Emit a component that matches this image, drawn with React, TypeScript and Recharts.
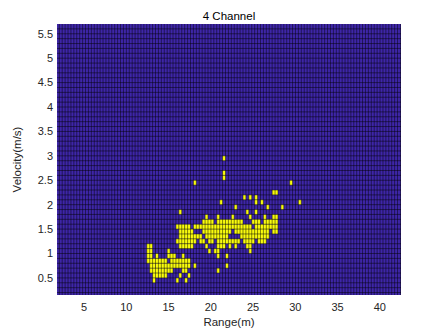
import {
  ScatterChart,
  XAxis,
  YAxis,
  ReferenceArea,
  ReferenceLine,
} from "recharts"

// range bin (m) and velocity bin (m/s) of the map
const RANGE_BIN = 0.345
const VEL_BIN = 0.1

const X_DOMAIN = [1.8, 42.5]
const Y_DOMAIN = [0.15, 5.7]

const X_TICKS = [5, 10, 15, 20, 25, 30, 35, 40]
const Y_TICKS = [0.5, 1, 1.5, 2, 2.5, 3, 3.5, 4, 4.5, 5, 5.5]

// velocity row (lower edge) -> runs of detected range [from, to] in m
const DETECTIONS: [number, number[][]][] = [
  [0.4, [[13.3, 13.4], [15.9, 15.9], [17.1, 17.1]]],
  [0.5, [[13.35, 13.6], [13.9, 14.2], [14.5, 14.5], [16.3, 16.3], [17.5, 17.5]]],
  [0.6, [[13.1, 13.6], [13.9, 14.3], [14.5, 14.8], [15.1, 15.5], [16.7, 17.1], [20.9, 20.9]]],
  [0.7, [[13.1, 13.3], [13.7, 15.7], [16.1, 17.25], [18.0, 18.0], [22.0, 22.0]]],
  [0.8, [[12.76, 14.77], [15.5, 17.5]]],
  [0.9, [[12.76, 13.1], [13.6, 13.6], [15.1, 15.3], [15.7, 15.7], [16.7, 16.7], [20.9, 20.9], [22.0, 22.0]]],
  [1.0, [[12.6, 13.1], [14.9, 15.1], [20.0, 20.0], [20.4, 20.4], [21.0, 21.0], [24.6, 24.6]]],
  [1.1, [[12.6, 12.9], [16.5, 17.9], [19.65, 19.65], [21.0, 21.4], [22.2, 22.2], [23.1, 23.1], [24.2, 24.8]]],
  [1.2, [[16.1, 18.1], [18.7, 19.3], [19.85, 20.25], [20.85, 23.2], [24.0, 25.0], [25.8, 26.4]]],
  [1.3, [[16.5, 18.7], [19.45, 22.0], [23.6, 26.75]]],
  [1.4, [[16.3, 17.9], [19.06, 20.85], [21.2, 22.4], [23.0, 23.2], [23.4, 26.9], [27.3, 27.9]]],
  [1.5, [[15.9, 15.9], [16.5, 16.7], [17.1, 17.5], [18.1, 18.5], [18.7, 23.4], [23.8, 24.6], [25.4, 27.9]]],
  [1.6, [[19.06, 20.05], [20.85, 23.6], [25.0, 25.6], [26.35, 27.7]]],
  [1.7, [[19.6, 19.6], [20.9, 20.9], [22.45, 22.45], [24.6, 24.6], [26.5, 26.5], [27.4, 27.8]]],
  [1.8, [[16.5, 16.5], [24.3, 24.3], [25.2, 25.2]]],
  [1.9, [[23.0, 23.0], [26.8, 26.8], [28.4, 28.4]]],
  [2.0, [[21.35, 21.35], [25.4, 25.4], [26.1, 26.1], [30.4, 30.4]]],
  [2.1, [[24.0, 24.0], [24.6, 24.6], [25.4, 25.4]]],
  [2.2, [[27.5, 27.9]]],
  [2.4, [[18.2, 18.2], [29.5, 29.5]]],
  [2.5, [[21.6, 21.6]]],
  [2.6, [[21.6, 21.6]]],
  [2.9, [[21.7, 21.7]]],
]

// snap runs onto the bin grid
const cells = DETECTIONS.flatMap(([v, runs]) =>
  runs.map(([a, b]) => ({
    x1: Math.floor(a / RANGE_BIN) * RANGE_BIN,
    x2: (Math.floor(b / RANGE_BIN) + 1) * RANGE_BIN,
    y1: v,
    y2: Math.round((v + VEL_BIN) * 10) / 10,
  }))
)

// bin edges drawn as the pcolor mesh
const rangeEdges = Array.from({ length: 130 }, (_, k) => k * RANGE_BIN).filter(
  (x) => x > X_DOMAIN[0] && x < X_DOMAIN[1]
)
const velEdges = Array.from({ length: 60 }, (_, k) => Math.round(k) / 10).filter(
  (v) => v > Y_DOMAIN[0] && v < Y_DOMAIN[1]
)

const FONT = "'Liberation Sans', Arial, Helvetica, sans-serif"
const AXIS_COLOR = "#262626"

export default function App() {
  return (
    <div
      style={{
        position: "absolute",
        left: 0,
        top: 0,
        width: 443,
        height: 332,
        background: "#fff",
        fontFamily: FONT,
      }}
    >
      <div
        style={{
          position: "absolute",
          left: 57,
          top: 9,
          width: 344,
          height: 14,
          lineHeight: "14px",
          textAlign: "center",
          fontSize: 11.5,
          color: "#000",
        }}
      >
        4 Channel
      </div>

      <ScatterChart
        width={443}
        height={332}
        margin={{ top: 24, right: 42, bottom: 4, left: 0 }}
      >
        <XAxis
          type="number"
          dataKey="x"
          domain={X_DOMAIN}
          ticks={X_TICKS}
          allowDataOverflow
          axisLine={false}
          tickLine={false}
          tickSize={0}
          tickMargin={8}
          height={33}
          tick={{ fill: AXIS_COLOR, fontSize: 11, fontFamily: FONT }}
          label={{
            value: "Range(m)",
            position: "insideBottom",
            offset: 2,
            style: { fill: AXIS_COLOR, fontSize: 11.5, fontFamily: FONT },
          }}
        />
        <YAxis
          type="number"
          dataKey="y"
          domain={Y_DOMAIN}
          ticks={Y_TICKS}
          allowDataOverflow
          axisLine={false}
          tickLine={false}
          tickSize={0}
          tickMargin={4}
          width={57}
          tick={{ fill: AXIS_COLOR, fontSize: 11, fontFamily: FONT }}
          label={{
            value: "Velocity(m/s)",
            angle: -90,
            position: "insideLeft",
            offset: 17,
            style: {
              fill: AXIS_COLOR,
              fontSize: 11.5,
              fontFamily: FONT,
              textAnchor: "middle",
            },
          }}
        />

        <ReferenceArea
          x1={X_DOMAIN[0]}
          x2={X_DOMAIN[1]}
          y1={Y_DOMAIN[0]}
          y2={Y_DOMAIN[1]}
          fill="#3e26a8"
          fillOpacity={1}
          stroke="none"
        />

        {cells.map((c, i) => (
          <ReferenceArea
            key={"c" + i}
            x1={c.x1}
            x2={c.x2}
            y1={c.y1}
            y2={c.y2}
            fill="#f9fb0e"
            fillOpacity={1}
            stroke="none"
          />
        ))}

        {rangeEdges.map((x) => (
          <ReferenceLine
            key={"x" + x}
            x={x}
            stroke="#000"
            strokeWidth={0.6}
            strokeOpacity={0.8}
          />
        ))}

        {velEdges.map((v) => (
          <ReferenceLine
            key={"y" + v}
            y={v}
            stroke="#000"
            strokeWidth={0.6}
            strokeOpacity={0.8}
          />
        ))}
      </ScatterChart>
    </div>
  )
}
